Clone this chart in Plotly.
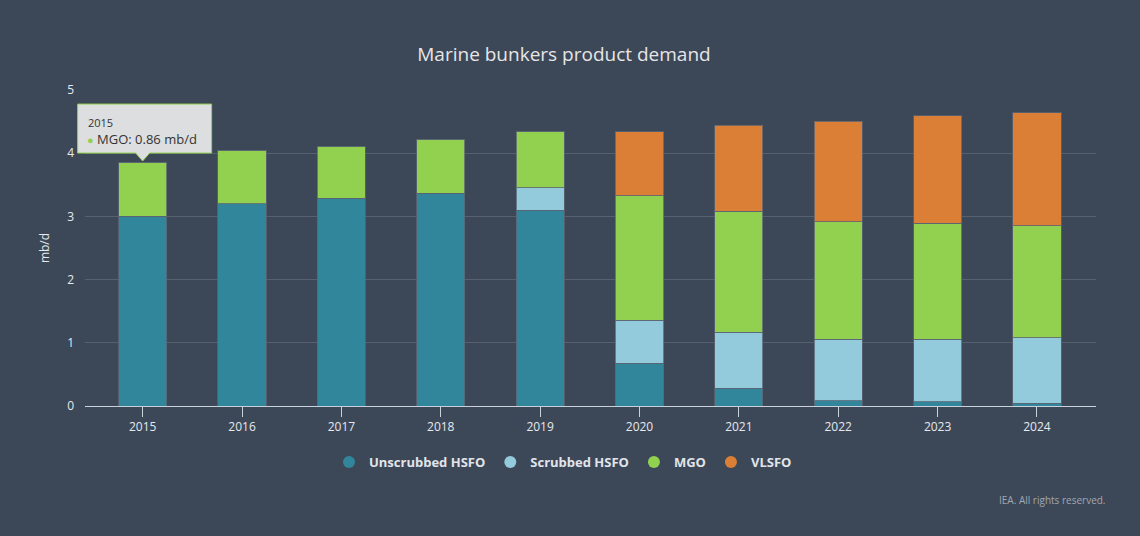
import plotly.graph_objects as go

years = ["2015", "2016", "2017", "2018", "2019", "2020", "2021", "2022", "2023", "2024"]
unscrubbed_hsfo = [3.00, 3.20, 3.29, 3.37, 3.10, 0.68, 0.28, 0.085, 0.07, 0.04]
scrubbed_hsfo = [0, 0, 0, 0, 0.35, 0.68, 0.89, 0.97, 0.99, 1.04]
mgo = [0.86, 0.85, 0.82, 0.85, 0.89, 1.97, 1.91, 1.86, 1.83, 1.77]
vlsfo = [0, 0, 0, 0, 0, 1.01, 1.36, 1.59, 1.70, 1.79]

series = [
    ("Unscrubbed HSFO", unscrubbed_hsfo, "#31869b"),
    ("Scrubbed HSFO", scrubbed_hsfo, "#93cbdc"),
    ("MGO", mgo, "#92d050"),
    ("VLSFO", vlsfo, "#db7f36"),
]

BG = "#3c4758"
FONT = "Open Sans"
X_RANGE = [-0.58, 9.594]
Y_RANGE = [0, 5]

fig = go.Figure()
for name, vals, col in series:
    fig.add_trace(go.Bar(
        x=years, y=vals, name=name, marker_color=col,
        marker_line=dict(color="rgba(90,100,115,0.8)", width=1),
        showlegend=False, hoverinfo="skip",
    ))
for name, vals, col in series:
    fig.add_trace(go.Scatter(
        x=[None], y=[None], mode="markers", name=name,
        marker=dict(symbol="circle", size=14, color=col),
    ))

# tooltip for 2015 MGO (drawn in paper coords so it is not clipped by the plot area)
tip_idx = 0
tip_year = years[tip_idx]
tip_val = mgo[tip_idx]
tip_top = unscrubbed_hsfo[tip_idx] + scrubbed_hsfo[tip_idx] + mgo[tip_idx]
px_anchor = (tip_idx - X_RANGE[0]) / (X_RANGE[1] - X_RANGE[0])
py_anchor = (tip_top - Y_RANGE[0]) / (Y_RANGE[1] - Y_RANGE[0])
fig.add_shape(
    type="path", xref="paper", yref="paper", xsizemode="pixel", ysizemode="pixel",
    xanchor=px_anchor, yanchor=py_anchor,
    path="M -65 9 L -7 9 L 0 1 L 7 9 L 69 9 L 69 58 L -65 58 Z",
    fillcolor="#dcdedf", line=dict(color="#92d050", width=1), layer="above",
)
fig.add_annotation(
    x=px_anchor, y=py_anchor, xref="paper", yref="paper", showarrow=False,
    xanchor="left", yanchor="middle", xshift=-57, yshift=40,
    text=tip_year, font=dict(family=FONT, size=11, color="#333333"),
)
fig.add_annotation(
    x=px_anchor, y=py_anchor, xref="paper", yref="paper", showarrow=False,
    xanchor="left", yanchor="middle", xshift=-58, yshift=23,
    text=f"<span style='color:#92d050;font-size:11px'>●</span> MGO: {tip_val:.2f} mb/d",
    font=dict(family=FONT, size=13, color="#333333"),
)

fig.add_annotation(
    xref="paper", yref="paper",
    x=(1108 - 85) / (1096 - 85), y=-(500 - 406) / (406 - 90),
    showarrow=False,
    text="IEA. All rights reserved.", font=dict(family=FONT, size=10, color="#a2a8b0"),
    xanchor="right", yanchor="middle",
)

fig.update_layout(
    width=1140, height=536,
    paper_bgcolor=BG, plot_bgcolor=BG,
    margin=dict(l=85, r=44, t=90, b=130),
    barmode="stack", bargap=0.515,
    font=dict(family=FONT, color="#e6e9ed", size=12),
    title=dict(text="Marine bunkers product demand", x=564 / 1140, xanchor="center",
               y=1 - 54 / 536, yanchor="middle", xref="container", yref="container",
               font=dict(family=FONT, size=19, color="#e6e6e6")),
    xaxis=dict(type="category", range=X_RANGE, showgrid=False,
               showline=True, linecolor="#c9d1dc", linewidth=1,
               ticks="outside", ticklen=10, tickcolor="#c9d1dc", tickwidth=1,
               tickfont=dict(size=12, color="#e6e9ed"), fixedrange=True),
    yaxis=dict(range=Y_RANGE, dtick=1, showgrid=True, gridcolor="#56606f", gridwidth=1,
               zeroline=False, showline=False,
               title=dict(text="mb/d", font=dict(size=12, color="#e6e9ed"), standoff=14),
               tickfont=dict(size=12, color="#e6e9ed"), ticklabelstandoff=10),
    legend=dict(orientation="h", x=(563 - 85) / 1011, xanchor="center",
                y=-(462 - 406) / 316, yanchor="middle", traceorder="normal",
                font=dict(family=FONT, size=13, color="#e1e5ea", weight="bold"),
                itemsizing="constant", bgcolor="rgba(0,0,0,0)"),
    hovermode=False,
)

fig.write_html("out.html", config={"displayModeBar": False},
               post_script="document.body.style.margin='0';")
